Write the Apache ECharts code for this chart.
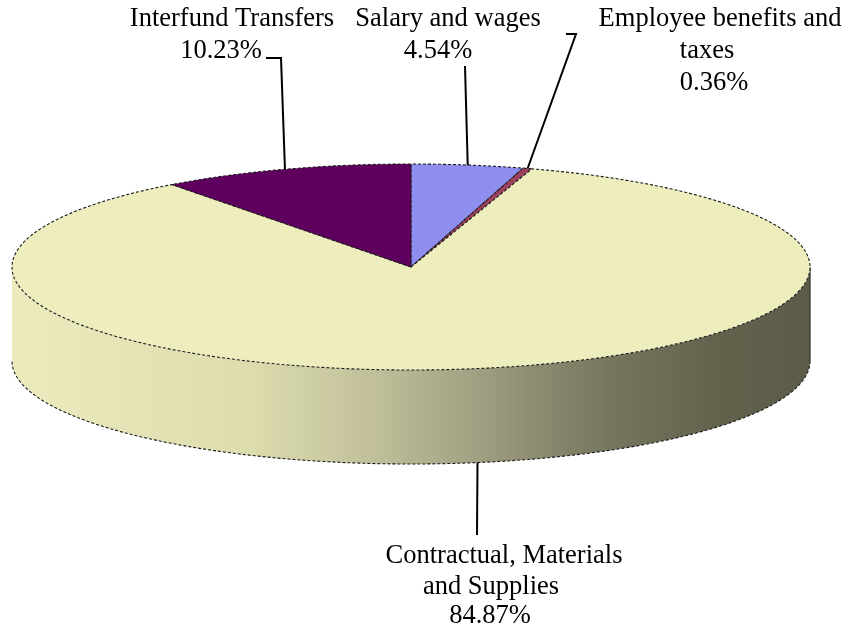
<!DOCTYPE html>
<html>
<head>
<meta charset="utf-8">
<script src="https://cdn.jsdelivr.net/npm/echarts@6/dist/echarts.min.js"></script>
<style>
  html, body { margin: 0; padding: 0; background: #ffffff; }
  #chart { width: 849px; height: 630px; }
</style>
</head>
<body>
<div id="chart"></div>
<script>
// Expense categories, clockwise from 12 o'clock
const categories = [
  'Salary and wages',
  'Employee benefits and\ntaxes',
  'Contractual, Materials\nand Supplies',
  'Interfund Transfers'
];
const shares = [4.54, 0.36, 84.87, 10.23];
const sliceColors = ['#8e8eee', '#a0405f', '#ededbe', '#5f005f'];

// Tilted disc geometry (pixels)
const CX = 411, CY = 267, RX = 399, RY = 103, DEPTH = 94;

// Label placement: centre of each text line, leader bend points, which rim the leader meets
const labelLayout = [
  { xs: [448, 438], ys: [19.5, 51], leader: [[465, 66]], toRim: 'top' },
  { xs: [720, 707, 714], ys: [19.5, 51.5, 83], leader: [[566, 34], [576, 34]], toRim: 'top' },
  { xs: [504, 491, 490], ys: [556, 587, 616], leader: [[477, 535]], toRim: 'bottom' },
  { xs: [232, 221], ys: [19.5, 51], leader: [[266, 58], [281, 58]], toRim: 'top' }
];

const total = shares.reduce((a, b) => a + b, 0);
const startAngles = [];
(function () {
  let acc = 0;
  shares.forEach(v => { startAngles.push(acc / total * Math.PI * 2); acc += v; });
})();

// point on the rim; angle measured clockwise from the top
function rim(theta, dy) {
  return [CX + RX * Math.sin(theta), CY - RY * Math.cos(theta) + (dy || 0)];
}
function arc(a, b, dy) {
  const pts = [];
  const n = Math.max(2, Math.ceil((b - a) / (Math.PI / 360)));
  for (let k = 0; k <= n; k++) pts.push(rim(a + (b - a) * k / n, dy));
  return pts;
}
function sliceRange(i, value) {
  const a = startAngles[i];
  return [a, a + value / total * Math.PI * 2];
}

const edgeStyle = { stroke: '#1a1a1a', lineWidth: 1.1, lineDash: [3, 2] };

const wallGradient = new echarts.graphic.LinearGradient(0, 0, 1, 0, [
  { offset: 0.00, color: '#ebebbd' },
  { offset: 0.30, color: '#dcdcae' },
  { offset: 0.46, color: '#bfbe9a' },
  { offset: 0.60, color: '#9c9b7e' },
  { offset: 0.75, color: '#76755e' },
  { offset: 0.88, color: '#63624d' },
  { offset: 1.00, color: '#5c5b47' }
]);

function renderWall(params, api) {
  const i = params.dataIndex;
  const [a, b] = sliceRange(i, api.value(0));
  const lo = Math.max(a, Math.PI / 2), hi = Math.min(b, Math.PI * 3 / 2);
  if (hi <= lo) return { type: 'group', children: [] };
  const top = arc(lo, hi, 0);
  const bottom = arc(lo, hi, DEPTH);
  const poly = top.concat(bottom.slice().reverse());
  const children = [
    { type: 'polygon', shape: { points: poly }, style: { fill: wallGradient } },
    { type: 'polyline', shape: { points: bottom }, style: Object.assign({ fill: null }, edgeStyle) }
  ];
  if (lo === Math.PI / 2) {
    children.push({ type: 'line', shape: { x1: top[0][0], y1: top[0][1], x2: bottom[0][0], y2: bottom[0][1] },
      style: { stroke: '#3a392d', lineWidth: 1.3 } });
  }
  return { type: 'group', children };
}

function renderTop(params, api) {
  const i = params.dataIndex;
  const [a, b] = sliceRange(i, api.value(0));
  const pts = [[CX, CY]].concat(arc(a, b, 0));
  return {
    type: 'polygon',
    shape: { points: pts },
    style: Object.assign({ fill: sliceColors[i] }, edgeStyle)
  };
}

function renderLabel(params, api) {
  const i = params.dataIndex;
  const value = api.value(0);
  const [a, b] = sliceRange(i, value);
  const mid = (a + b) / 2;
  const lay = labelLayout[i];
  const end = lay.toRim === 'bottom' ? rim(mid, DEPTH) : rim(mid, 0);
  const lines = categories[i].split('\n').concat([value.toFixed(2) + '%']);
  const children = lines.map((t, k) => ({
    type: 'text',
    style: {
      text: t, x: lay.xs[k], y: lay.ys[k],
      align: 'center', verticalAlign: 'middle',
      font: '26.5px "Liberation Serif", "Times New Roman", serif', fill: '#000000'
    }
  }));
  children.push({
    type: 'polyline',
    shape: { points: lay.leader.concat([end]) },
    style: { stroke: '#000000', lineWidth: 2, fill: null }
  });
  return { type: 'group', children };
}

const seriesData = shares.map((v, i) => ({ name: categories[i], value: v }));

const chart = echarts.init(document.getElementById('chart'), null, { renderer: 'canvas' });
chart.setOption({
  backgroundColor: '#ffffff',
  animation: false,
  series: [
    { type: 'custom', name: 'wall', coordinateSystem: 'none', z: 1, silent: true, renderItem: renderWall, data: seriesData },
    { type: 'custom', name: 'top', coordinateSystem: 'none', z: 2, silent: true, renderItem: renderTop, data: seriesData },
    { type: 'custom', name: 'labels', coordinateSystem: 'none', z: 3, silent: true, renderItem: renderLabel, data: seriesData }
  ]
});
</script>
</body>
</html>
